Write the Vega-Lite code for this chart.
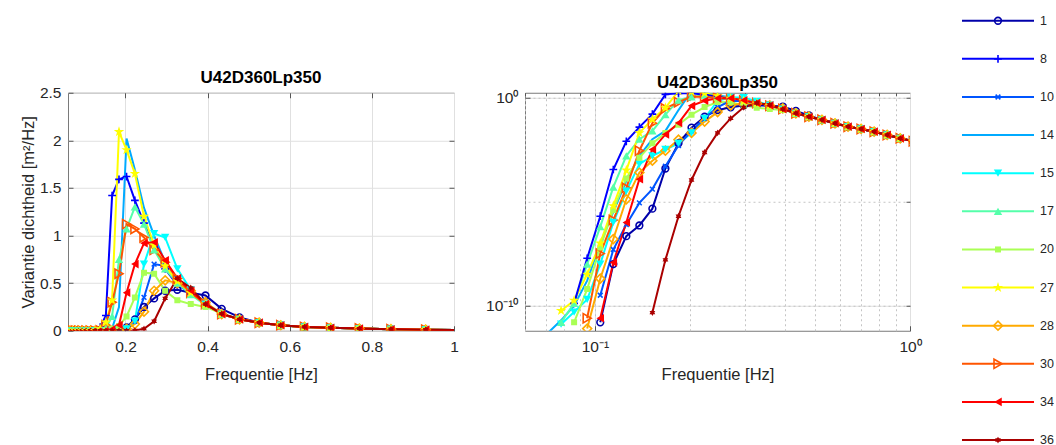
{
  "$schema": "https://vega.github.io/schema/vega-lite/v6.json",
  "padding": {"left": 19, "top": 13.75, "right": 0, "bottom": 0},
  "background": "white",
  "config": {
    "font": "Liberation Sans",
    "view": {"stroke": "#7a7a7a", "strokeWidth": 1},
    "axis": {"labelFont": "Liberation Sans", "labelFontSize": 15.5, "labelColor": "#262626", "titleFont": "Liberation Sans", "titleFontSize": 16.5, "titleColor": "#262626", "titleFontWeight": "normal", "domain": false, "ticks": false, "labelFlush": false, "tickColor": "#555555", "tickWidth": 1, "gridColor": "#e0e0e0", "gridOpacity": 1, "gridWidth": 1},
    "title": {"font": "Liberation Sans", "fontSize": 17, "fontWeight": "bold", "color": "#000000", "offset": -1}
  },
  "datasets": {
    "psd": [
      {"f":0.0645,"1":0,"8":0,"10":0,"14":1e-12,"15":0,"17":0,"20":0,"27":0,"28":0,"30":0,"34":0,"36":0},
      {"f":0.071,"1":0,"8":0,"10":0,"14":5e-12,"15":0,"17":0,"20":0,"27":0,"28":0,"30":0,"34":0,"36":0},
      {"f":0.0781,"1":0,"8":0,"10":0,"14":2e-11,"15":1.3e-11,"17":1.6e-11,"20":0,"27":5.8e-11,"28":0,"30":0,"34":0,"36":0},
      {"f":0.0859,"1":0,"8":1.3e-10,"10":0,"14":1e-10,"15":5e-11,"17":1.3e-10,"20":1.6e-11,"27":1.8e-10,"28":0,"30":0,"34":0,"36":0},
      {"f":0.0945,"1":0,"8":1.9e-8,"10":0,"14":1.6e-9,"15":2e-10,"17":1e-8,"20":6.3e-10,"27":3.2e-9,"28":8e-12,"30":2.5e-11,"34":0,"36":0},
      {"f":0.104,"1":1.6e-11,"8":2e-6,"10":3.2e-10,"14":1e-7,"15":1e-8,"17":6.3e-7,"20":6.3e-8,"27":1e-7,"28":2e-9,"30":3.2e-8,"34":2.5e-11,"36":0},
      {"f":0.1144,"1":1e-8,"8":3.5e-4,"10":5e-8,"14":3.2e-6,"15":1e-6,"17":5e-5,"20":4e-6,"27":6.3e-6,"28":1.6e-7,"30":1.3e-6,"34":1.2e-8,"36":0},
      {"f":0.1258,"1":2.2e-7,"8":0.0079,"10":7.9e-7,"14":1e-4,"15":3.2e-5,"17":0.0016,"20":1.3e-4,"27":3.2e-4,"28":1.3e-5,"30":4.6e-5,"34":1e-6,"36":0},
      {"f":0.1384,"1":7.2e-7,"8":0.038,"10":8.7e-6,"14":0.0016,"15":6.3e-4,"17":0.01,"20":0.0013,"27":0.02,"28":2.5e-4,"30":0.0028,"34":1.2e-4,"36":0},
      {"f":0.1522,"1":4.6e-6,"8":0.16,"10":4e-5,"14":0.01,"15":0.0016,"17":0.025,"20":0.0063,"27":0.09,"28":9.3e-4,"30":0.059,"34":0.0032,"36":4.7e-11},
      {"f":0.1674,"1":3.9e-4,"8":1.42,"10":5e-4,"14":0.025,"15":0.0032,"17":0.15,"20":0.02,"27":0.32,"28":0.0028,"30":0.3,"34":0.017,"36":1.6e-8},
      {"f":0.1842,"1":0.0063,"8":1.59,"10":0.005,"14":0.25,"15":0.0063,"17":0.75,"20":0.05,"27":2.09,"28":0.0095,"30":0.6,"34":0.06,"36":2e-6},
      {"f":0.2026,"1":0.036,"8":1.62,"10":0.025,"14":2.02,"15":0.02,"17":1.07,"20":0.15,"27":1.9,"28":0.02,"30":1.12,"34":0.4,"36":1.1e-4},
      {"f":0.2229,"1":0.12,"8":1.37,"10":0.1,"14":1.69,"15":0.1,"17":1.3,"20":0.35,"27":1.65,"28":0.07,"30":1.07,"34":0.7,"36":0.0023},
      {"f":0.2451,"1":0.25,"8":1.13,"10":0.35,"14":1.29,"15":0.7,"17":1.12,"20":0.61,"27":1.2,"28":0.2,"30":0.98,"34":0.92,"36":0.02},
      {"f":0.2697,"1":0.34,"8":0.88,"10":0.7,"14":1.0,"15":1.02,"17":0.85,"20":0.6,"27":0.9,"28":0.42,"30":0.85,"34":0.93,"36":0.1},
      {"f":0.2966,"1":0.42,"8":0.65,"10":0.68,"14":0.72,"15":0.98,"17":0.65,"20":0.42,"27":0.68,"28":0.53,"30":0.72,"34":0.74,"36":0.34},
      {"f":0.3263,"1":0.43,"8":0.48,"10":0.55,"14":0.52,"15":0.65,"17":0.5,"20":0.32,"27":0.52,"28":0.5,"30":0.55,"34":0.55,"36":0.55},
      {"f":0.3589,"1":0.4,"8":0.4,"10":0.42,"14":0.4,"15":0.43,"17":0.38,"20":0.28,"27":0.4,"28":0.42,"30":0.4,"34":0.42,"36":0.45},
      {"f":0.3948,"1":0.37,"8":0.28,"10":0.29,"14":0.28,"15":0.28,"17":0.27,"20":0.25,"27":0.28,"28":0.3,"30":0.28,"34":0.28,"36":0.28},
      {"f":0.4343,"1":0.23,"8":0.175,"10":0.175,"14":0.175,"15":0.175,"17":0.175,"20":0.18,"27":0.175,"28":0.175,"30":0.175,"34":0.175,"36":0.18},
      {"f":0.4777,"1":0.14,"8":0.12,"10":0.12,"14":0.12,"15":0.12,"17":0.12,"20":0.12,"27":0.12,"28":0.12,"30":0.12,"34":0.12,"36":0.12},
      {"f":0.5255,"1":0.085,"8":0.085,"10":0.085,"14":0.085,"15":0.085,"17":0.085,"20":0.085,"27":0.085,"28":0.085,"30":0.085,"34":0.085,"36":0.085},
      {"f":0.5781,"1":0.058,"8":0.058,"10":0.058,"14":0.058,"15":0.058,"17":0.058,"20":0.058,"27":0.058,"28":0.058,"30":0.058,"34":0.058,"36":0.058},
      {"f":0.6359,"1":0.04,"8":0.04,"10":0.04,"14":0.04,"15":0.04,"17":0.04,"20":0.04,"27":0.04,"28":0.04,"30":0.04,"34":0.04,"36":0.04},
      {"f":0.6995,"1":0.031,"8":0.031,"10":0.031,"14":0.031,"15":0.031,"17":0.031,"20":0.031,"27":0.031,"28":0.031,"30":0.031,"34":0.031,"36":0.031},
      {"f":0.7694,"1":0.023,"8":0.023,"10":0.023,"14":0.023,"15":0.023,"17":0.023,"20":0.023,"27":0.023,"28":0.023,"30":0.023,"34":0.023,"36":0.023},
      {"f":0.8464,"1":0.016,"8":0.016,"10":0.016,"14":0.016,"15":0.016,"17":0.016,"20":0.016,"27":0.016,"28":0.016,"30":0.016,"34":0.016,"36":0.016},
      {"f":0.931,"1":0.011,"8":0.011,"10":0.011,"14":0.011,"15":0.011,"17":0.011,"20":0.011,"27":0.011,"28":0.011,"30":0.011,"34":0.011,"36":0.011},
      {"f":1.0241,"1":0.008,"8":0.008,"10":0.008,"14":0.008,"15":0.008,"17":0.008,"20":0.008,"27":0.008,"28":0.008,"30":0.008,"34":0.008,"36":0.008}
    ],
    "leg": [{"s":"1"},{"s":"8"},{"s":"10"},{"s":"14"},{"s":"15"},{"s":"17"},{"s":"20"},{"s":"27"},{"s":"28"},{"s":"30"},{"s":"34"},{"s":"36"}]
  },
  "bounds": "flush",
  "spacing": 71,
  "hconcat": [
    {
      "width": 386, "height": 238,
      "title": "U42D360Lp350",
      "data": {"name": "psd"},
      "transform": [{"fold": ["1","8","10","14","15","17","20","27","28","30","34","36"], "as": ["s","v"]}],
      "layer": [
        {
          "mark": {"type": "line", "strokeWidth": 2, "clip": true},
          "encoding": {
            "x": {"field": "f", "type": "quantitative", "scale": {"domain": [0.06, 1], "nice": false, "zero": false}, "axis": {"orient": "bottom", "values": [0.2,0.4,0.6,0.8,1], "format": "~g", "title": "Frequentie [Hz]", "grid": true, "ticks": true, "tickSize": -5, "labelPadding": 14, "titlePadding": 11}},
            "y": {"field": "v", "type": "quantitative", "scale": {"domain": [0, 2.5], "nice": false}, "axis": {"orient": "left", "values": [0,0.5,1,1.5,2,2.5], "format": "~g", "title": "Variantie dichtheid [m²/Hz]", "grid": true, "ticks": true, "tickSize": -5, "labelPadding": 12, "titlePadding": 3}},
            "color": {"field": "s", "type": "nominal", "scale": {"domain": ["1","8","10","14","15","17","20","27","28","30","34","36"], "range": ["#0000aa","#0000ff","#0055ff","#00aaff","#00ffff","#55ffaa","#aaff55","#ffff00","#ffaa00","#ff5500","#ff0000","#aa0000"]}, "legend": null}
          }
        },
        {
          "transform": [{"filter": {"field": "s", "oneOf": ["1","8","10","28","30"]}}],
          "mark": {"type": "point", "filled": false, "strokeWidth": 1.6, "opacity": 1, "clip": true},
          "encoding": {
            "x": {"field": "f", "type": "quantitative", "axis": {"orient": "top", "values": [0.2,0.4,0.6,0.8], "labels": false, "title": null, "grid": false, "ticks": true, "tickSize": -5}},
            "y": {"field": "v", "type": "quantitative", "axis": {"orient": "right", "values": [0.5,1,1.5,2], "labels": false, "title": null, "grid": false, "ticks": true, "tickSize": -5}},
            "color": {"field": "s", "type": "nominal", "scale": {"domain": ["1","8","10","14","15","17","20","27","28","30","34","36"], "range": ["#0000aa","#0000ff","#0055ff","#00aaff","#00ffff","#55ffaa","#aaff55","#ffff00","#ffaa00","#ff5500","#ff0000","#aa0000"]}, "legend": null},
            "shape": {"field": "s", "type": "nominal", "scale": {"domain": ["1","8","10","14","15","17","20","27","28","30","34","36"], "range": ["circle","M-1,0L1,0M0,-1L0,1","M-0.75,-0.75L0.75,0.75M-0.75,0.75L0.75,-0.75","circle","triangle-down","triangle-up","square","M0,-1L0.225,-0.309L0.951,-0.309L0.363,0.118L0.588,0.809L0,0.382L-0.588,0.809L-0.363,0.118L-0.951,-0.309L-0.225,-0.309Z","diamond","triangle-right","triangle-left","M0,-1L0.289,-0.5L0.866,-0.5L0.577,0L0.866,0.5L0.289,0.5L0,1L-0.289,0.5L-0.866,0.5L-0.577,0L-0.866,-0.5L-0.289,-0.5Z"]}, "legend": null},
            "size": {"field": "s", "type": "nominal", "scale": {"type": "ordinal", "domain": ["1","8","10","14","15","17","20","27","28","30","34","36"], "range": [45,60,40,1,70,70,36,120,80,85,75,45]}, "legend": null}
          }
        },
        {
          "transform": [{"filter": {"field": "s", "oneOf": ["15","17","20","27","34","36"]}}],
          "mark": {"type": "point", "filled": true, "opacity": 1, "clip": true},
          "encoding": {
            "x": {"field": "f", "type": "quantitative", "axis": null},
            "y": {"field": "v", "type": "quantitative", "axis": null},
            "color": {"field": "s", "type": "nominal", "scale": {"domain": ["1","8","10","14","15","17","20","27","28","30","34","36"], "range": ["#0000aa","#0000ff","#0055ff","#00aaff","#00ffff","#55ffaa","#aaff55","#ffff00","#ffaa00","#ff5500","#ff0000","#aa0000"]}, "legend": null},
            "shape": {"field": "s", "type": "nominal", "scale": {"domain": ["1","8","10","14","15","17","20","27","28","30","34","36"], "range": ["circle","M-1,0L1,0M0,-1L0,1","M-0.75,-0.75L0.75,0.75M-0.75,0.75L0.75,-0.75","circle","triangle-down","triangle-up","square","M0,-1L0.225,-0.309L0.951,-0.309L0.363,0.118L0.588,0.809L0,0.382L-0.588,0.809L-0.363,0.118L-0.951,-0.309L-0.225,-0.309Z","diamond","triangle-right","triangle-left","M0,-1L0.289,-0.5L0.866,-0.5L0.577,0L0.866,0.5L0.289,0.5L0,1L-0.289,0.5L-0.866,0.5L-0.577,0L-0.866,-0.5L-0.289,-0.5Z"]}, "legend": null},
            "size": {"field": "s", "type": "nominal", "scale": {"type": "ordinal", "domain": ["1","8","10","14","15","17","20","27","28","30","34","36"], "range": [45,60,40,1,70,70,36,120,80,85,75,45]}, "legend": null}
          }
        }
      ]
    },
    {
      "width": 385, "height": 238,
      "title": "U42D360Lp350",
      "data": {"name": "psd"},
      "transform": [{"fold": ["1","8","10","14","15","17","20","27","28","30","34","36"], "as": ["s","v"]}, {"filter": "datum.v > 0"}],
      "layer": [
        {
          "mark": {"type": "line", "strokeWidth": 2, "clip": true},
          "encoding": {
            "x": {"field": "f", "type": "quantitative", "scale": {"type": "log", "domain": [0.06, 1], "nice": false}, "axis": {"orient": "bottom", "values": [0.1, 1], "labelExpr": "datum.value < 0.5 ? '10⁻¹' : '10⁰'", "title": "Frequentie [Hz]", "grid": true, "ticks": true, "tickSize": -5, "labelPadding": 14, "titlePadding": 11}},
            "y": {"field": "v", "type": "quantitative", "scale": {"type": "log", "domain": [6.3e-12, 1.7], "nice": false}, "axis": {"orient": "left", "values": [1e-10, 1], "labelExpr": "datum.value > 0.5 ? '10⁰' : '10⁻¹⁰'", "title": null, "grid": true, "ticks": true, "tickSize": -5, "labelPadding": 12}},
            "color": {"field": "s", "type": "nominal", "scale": {"domain": ["1","8","10","14","15","17","20","27","28","30","34","36"], "range": ["#0000aa","#0000ff","#0055ff","#00aaff","#00ffff","#55ffaa","#aaff55","#ffff00","#ffaa00","#ff5500","#ff0000","#aa0000"]}, "legend": null}
          }
        },
        {
          "transform": [{"filter": {"field": "s", "oneOf": ["1","8","10","28","30"]}}],
          "mark": {"type": "point", "filled": false, "strokeWidth": 1.6, "opacity": 1, "clip": true},
          "encoding": {
            "x": {"field": "f", "type": "quantitative", "axis": {"orient": "top", "values": [0.06,0.07,0.08,0.09,0.1,0.2,0.3,0.4,0.5,0.6,0.7,0.8,0.9], "labels": false, "title": null, "grid": true, "gridDash": [2,3], "gridColor": "#c4c4c4", "ticks": true, "tickSize": -3}},
            "y": {"field": "v", "type": "quantitative", "axis": {"orient": "right", "values": [1e-10, 1e-5, 1], "labels": false, "title": null, "grid": true, "gridDash": [2,3], "gridColor": "#c4c4c4", "ticks": true, "tickSize": -4}},
            "color": {"field": "s", "type": "nominal", "scale": {"domain": ["1","8","10","14","15","17","20","27","28","30","34","36"], "range": ["#0000aa","#0000ff","#0055ff","#00aaff","#00ffff","#55ffaa","#aaff55","#ffff00","#ffaa00","#ff5500","#ff0000","#aa0000"]}, "legend": null},
            "shape": {"field": "s", "type": "nominal", "scale": {"domain": ["1","8","10","14","15","17","20","27","28","30","34","36"], "range": ["circle","M-1,0L1,0M0,-1L0,1","M-0.75,-0.75L0.75,0.75M-0.75,0.75L0.75,-0.75","circle","triangle-down","triangle-up","square","M0,-1L0.225,-0.309L0.951,-0.309L0.363,0.118L0.588,0.809L0,0.382L-0.588,0.809L-0.363,0.118L-0.951,-0.309L-0.225,-0.309Z","diamond","triangle-right","triangle-left","M0,-1L0.289,-0.5L0.866,-0.5L0.577,0L0.866,0.5L0.289,0.5L0,1L-0.289,0.5L-0.866,0.5L-0.577,0L-0.866,-0.5L-0.289,-0.5Z"]}, "legend": null},
            "size": {"field": "s", "type": "nominal", "scale": {"type": "ordinal", "domain": ["1","8","10","14","15","17","20","27","28","30","34","36"], "range": [45,60,40,1,70,70,36,120,80,85,75,45]}, "legend": null}
          }
        },
        {
          "transform": [{"filter": {"field": "s", "oneOf": ["15","17","20","27","34","36"]}}],
          "mark": {"type": "point", "filled": true, "opacity": 1, "clip": true},
          "encoding": {
            "x": {"field": "f", "type": "quantitative", "axis": null},
            "y": {"field": "v", "type": "quantitative", "axis": null},
            "color": {"field": "s", "type": "nominal", "scale": {"domain": ["1","8","10","14","15","17","20","27","28","30","34","36"], "range": ["#0000aa","#0000ff","#0055ff","#00aaff","#00ffff","#55ffaa","#aaff55","#ffff00","#ffaa00","#ff5500","#ff0000","#aa0000"]}, "legend": null},
            "shape": {"field": "s", "type": "nominal", "scale": {"domain": ["1","8","10","14","15","17","20","27","28","30","34","36"], "range": ["circle","M-1,0L1,0M0,-1L0,1","M-0.75,-0.75L0.75,0.75M-0.75,0.75L0.75,-0.75","circle","triangle-down","triangle-up","square","M0,-1L0.225,-0.309L0.951,-0.309L0.363,0.118L0.588,0.809L0,0.382L-0.588,0.809L-0.363,0.118L-0.951,-0.309L-0.225,-0.309Z","diamond","triangle-right","triangle-left","M0,-1L0.289,-0.5L0.866,-0.5L0.577,0L0.866,0.5L0.289,0.5L0,1L-0.289,0.5L-0.866,0.5L-0.577,0L-0.866,-0.5L-0.289,-0.5Z"]}, "legend": null},
            "size": {"field": "s", "type": "nominal", "scale": {"type": "ordinal", "domain": ["1","8","10","14","15","17","20","27","28","30","34","36"], "range": [45,60,40,1,70,70,36,120,80,85,75,45]}, "legend": null}
          }
        }
      ]
    },
    {
      "width": 60, "height": 238,
      "view": {"stroke": null},
      "data": {"name": "leg"},
      "layer": [
        {
          "mark": {"type": "rule", "strokeWidth": 2},
          "encoding": {
            "x": {"datum": 0, "type": "quantitative", "scale": {"domain": [0, 1], "range": [-19, 53]}, "axis": null},
            "x2": {"datum": 1},
            "y": {"field": "s", "type": "nominal", "sort": null, "scale": {"type": "point", "domain": ["1","8","10","14","15","17","20","27","28","30","34","36"], "range": [-72, 347.3], "padding": 0}, "axis": null},
            "color": {"field": "s", "type": "nominal", "scale": {"domain": ["1","8","10","14","15","17","20","27","28","30","34","36"], "range": ["#0000aa","#0000ff","#0055ff","#00aaff","#00ffff","#55ffaa","#aaff55","#ffff00","#ffaa00","#ff5500","#ff0000","#aa0000"]}, "legend": null}
          }
        },
        {
          "transform": [{"filter": {"field": "s", "oneOf": ["1","8","10","28","30"]}}],
          "mark": {"type": "point", "filled": false, "strokeWidth": 1.6, "opacity": 1},
          "encoding": {
            "x": {"datum": 0.5, "type": "quantitative", "axis": null},
            "y": {"field": "s", "type": "nominal", "sort": null, "axis": null},
            "color": {"field": "s", "type": "nominal", "scale": {"domain": ["1","8","10","14","15","17","20","27","28","30","34","36"], "range": ["#0000aa","#0000ff","#0055ff","#00aaff","#00ffff","#55ffaa","#aaff55","#ffff00","#ffaa00","#ff5500","#ff0000","#aa0000"]}, "legend": null},
            "shape": {"field": "s", "type": "nominal", "scale": {"domain": ["1","8","10","14","15","17","20","27","28","30","34","36"], "range": ["circle","M-1,0L1,0M0,-1L0,1","M-0.75,-0.75L0.75,0.75M-0.75,0.75L0.75,-0.75","circle","triangle-down","triangle-up","square","M0,-1L0.225,-0.309L0.951,-0.309L0.363,0.118L0.588,0.809L0,0.382L-0.588,0.809L-0.363,0.118L-0.951,-0.309L-0.225,-0.309Z","diamond","triangle-right","triangle-left","M0,-1L0.289,-0.5L0.866,-0.5L0.577,0L0.866,0.5L0.289,0.5L0,1L-0.289,0.5L-0.866,0.5L-0.577,0L-0.866,-0.5L-0.289,-0.5Z"]}, "legend": null},
            "size": {"field": "s", "type": "nominal", "scale": {"type": "ordinal", "domain": ["1","8","10","14","15","17","20","27","28","30","34","36"], "range": [45,60,40,1,70,70,36,120,80,85,75,45]}, "legend": null}
          }
        },
        {
          "transform": [{"filter": {"field": "s", "oneOf": ["15","17","20","27","34","36"]}}],
          "mark": {"type": "point", "filled": true, "opacity": 1},
          "encoding": {
            "x": {"datum": 0.5, "type": "quantitative", "axis": null},
            "y": {"field": "s", "type": "nominal", "sort": null, "axis": null},
            "color": {"field": "s", "type": "nominal", "scale": {"domain": ["1","8","10","14","15","17","20","27","28","30","34","36"], "range": ["#0000aa","#0000ff","#0055ff","#00aaff","#00ffff","#55ffaa","#aaff55","#ffff00","#ffaa00","#ff5500","#ff0000","#aa0000"]}, "legend": null},
            "shape": {"field": "s", "type": "nominal", "scale": {"domain": ["1","8","10","14","15","17","20","27","28","30","34","36"], "range": ["circle","M-1,0L1,0M0,-1L0,1","M-0.75,-0.75L0.75,0.75M-0.75,0.75L0.75,-0.75","circle","triangle-down","triangle-up","square","M0,-1L0.225,-0.309L0.951,-0.309L0.363,0.118L0.588,0.809L0,0.382L-0.588,0.809L-0.363,0.118L-0.951,-0.309L-0.225,-0.309Z","diamond","triangle-right","triangle-left","M0,-1L0.289,-0.5L0.866,-0.5L0.577,0L0.866,0.5L0.289,0.5L0,1L-0.289,0.5L-0.866,0.5L-0.577,0L-0.866,-0.5L-0.289,-0.5Z"]}, "legend": null},
            "size": {"field": "s", "type": "nominal", "scale": {"type": "ordinal", "domain": ["1","8","10","14","15","17","20","27","28","30","34","36"], "range": [45,60,40,1,70,70,36,120,80,85,75,45]}, "legend": null}
          }
        },
        {
          "mark": {"type": "text", "align": "left", "baseline": "middle", "dx": 6, "fontSize": 12.5, "color": "#262626", "font": "Liberation Sans"},
          "encoding": {
            "x": {"datum": 1, "type": "quantitative", "axis": null},
            "y": {"field": "s", "type": "nominal", "sort": null, "axis": null},
            "text": {"field": "s", "type": "nominal"}
          }
        }
      ]
    }
  ]
}
